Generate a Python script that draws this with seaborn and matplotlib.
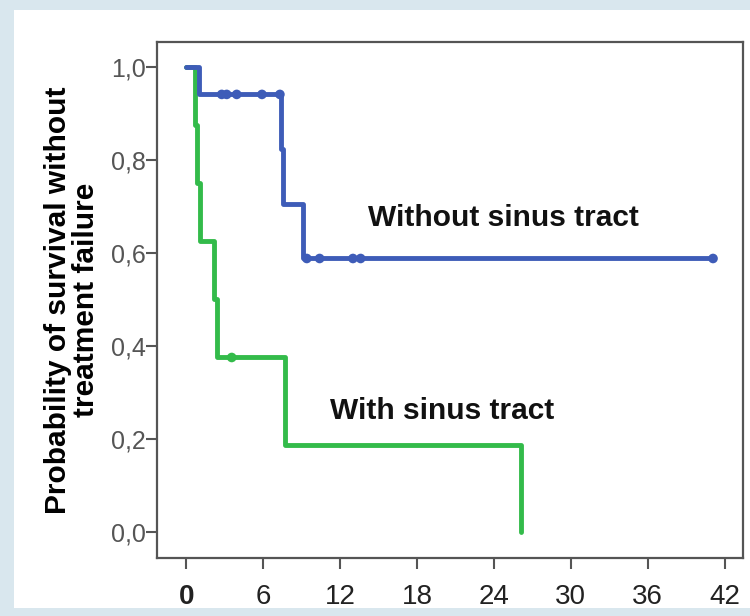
import matplotlib
matplotlib.use('Agg')
import matplotlib.pyplot as plt
import pandas as pd
import seaborn as sns
from matplotlib.patches import Rectangle

# Kaplan-Meier steps (months, survival probability)
without_time = [0, 1.0, 7.39, 7.57, 9.13, 41.1]
without_surv = [1.0, 0.941, 0.824, 0.706, 0.588, 0.588]
with_time = [0, 0.68, 0.83, 1.03, 2.18, 2.42, 7.7, 26.1]
with_surv = [1.0, 0.875, 0.75, 0.625, 0.5, 0.375, 0.1875, 0.0]

# censored cases
without_cens_time = [2.76, 3.15, 3.93, 5.9, 7.3, 9.4, 10.4, 13.0, 13.6, 41.1]
without_cens_surv = [0.941, 0.941, 0.941, 0.941, 0.941, 0.588, 0.588, 0.588, 0.588, 0.588]
with_cens_time = [3.54]
with_cens_surv = [0.375]

x_ticks = [0, 6, 12, 18, 24, 30, 36, 42]
y_ticks = [0.0, 0.2, 0.4, 0.6, 0.8, 1.0]
y_tick_labels = ['0,0', '0,2', '0,4', '0,6', '0,8', '1,0']

groups = ['With sinus tract', 'Without sinus tract']
colors = {'With sinus tract': '#33bb4a', 'Without sinus tract': '#3e5cb8'}

curves = pd.concat([
    pd.DataFrame({'time': with_time, 'surv': with_surv, 'group': groups[0]}),
    pd.DataFrame({'time': without_time, 'surv': without_surv, 'group': groups[1]}),
])
censored = pd.concat([
    pd.DataFrame({'time': with_cens_time, 'surv': with_cens_surv, 'group': groups[0]}),
    pd.DataFrame({'time': without_cens_time, 'surv': without_cens_surv, 'group': groups[1]}),
])

sns.set_style('white')
plt.rcParams['font.family'] = ['Liberation Sans', 'DejaVu Sans']

fig = plt.figure(figsize=(7.5, 6.16), dpi=100, facecolor='#d9e7ee')
panel = Rectangle((14 / 750, 1 - 608 / 616), 1, (608 - 10) / 616,
                  transform=fig.transFigure, facecolor='white',
                  edgecolor='none', zorder=-10)
fig.add_artist(panel)
ax = fig.add_axes([0.209, 0.094, 0.781, 0.838])
ax.set_facecolor('white')

sns.lineplot(data=curves, x='time', y='surv', hue='group', hue_order=groups,
             palette=colors, drawstyle='steps-post', linewidth=3.5,
             estimator=None, legend=False, ax=ax)
sns.scatterplot(data=censored, x='time', y='surv', hue='group', hue_order=groups,
                palette=colors, s=48, edgecolor='none', legend=False, ax=ax, zorder=5)

ax.set_xlim(-2.31, 43.4)
ax.set_ylim(-0.0566, 1.054)
ax.set_xticks(x_ticks)
ax.set_yticks(y_ticks)
ax.set_yticklabels(y_tick_labels)
ax.tick_params(axis='x', bottom=True, length=8, width=1.5, color='#555555',
               labelsize=20, labelcolor='#222222', pad=11)
ax.tick_params(axis='y', left=True, length=8, width=1.5, color='#555555',
               labelsize=18, labelcolor='#555555', pad=0)
ax.get_xticklabels()[0].set_fontweight('bold')
for s in ax.spines.values():
    s.set_color('#555555')
    s.set_linewidth(1.6)

ax.set_xlabel('')
ax.set_ylabel('Probability of survival without\ntreatment failure',
              fontsize=21.5, fontweight='bold', color='black',
              linespacing=1.0, labelpad=8)

ax.text(14.17, 0.657, 'Without sinus tract', fontsize=21.5, fontweight='bold',
        color='#111111', va='baseline')
ax.text(11.2, 0.242, 'With sinus tract', fontsize=21.5, fontweight='bold',
        color='#111111', va='baseline')

fig.savefig('out.png', dpi=100, facecolor=fig.get_facecolor())
